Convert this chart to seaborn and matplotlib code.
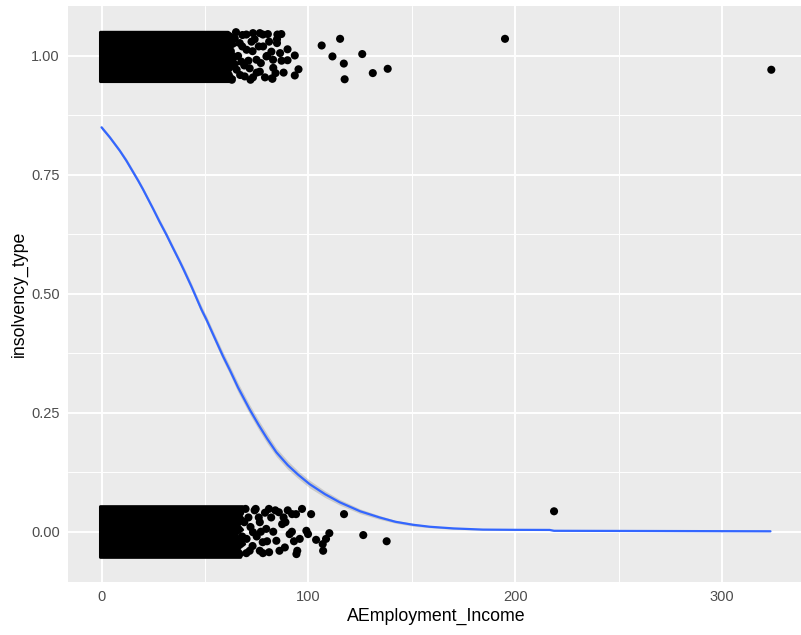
import numpy as np
import pandas as pd
import seaborn as sns
import matplotlib.pyplot as plt

# fitted logistic curve
curve_x = [0, 4, 8.8, 12, 17.7, 20, 24.9, 28, 31.4, 34, 37.8, 40, 43.5, 46, 48.3, 50.7,
           54, 58.7, 62, 66, 71.6, 76, 80, 84.5, 90, 95, 100.6, 108, 115.1, 125, 134.4,
           142, 150.5, 158.6, 170, 184.3, 200, 216.6, 218.7, 323.3]
curve_y = [0.850, 0.829, 0.801, 0.780, 0.738, 0.720, 0.679, 0.652, 0.624, 0.601, 0.568,
           0.548, 0.515, 0.490, 0.467, 0.446, 0.414, 0.369, 0.340, 0.303, 0.257, 0.224,
           0.196, 0.167, 0.140, 0.120, 0.100, 0.079, 0.062, 0.043, 0.030, 0.021, 0.0147,
           0.0105, 0.007, 0.0045, 0.0040, 0.0038, 0.002, 0.001]
ci_half = [0.004, 0.004, 0.004, 0.005, 0.005, 0.005, 0.005, 0.006, 0.006, 0.006, 0.006,
           0.007, 0.007, 0.007, 0.008, 0.008, 0.008, 0.009, 0.009, 0.010, 0.010, 0.010,
           0.010, 0.009, 0.009, 0.008, 0.008, 0.007, 0.006, 0.005, 0.004, 0.003, 0.003,
           0.002, 0.002, 0.001, 0.001, 0.001, 0.001, 0.001]

# solid cores of the jittered clouds (too dense to read single points): ragged right edge
top_core_y = [0.947, 0.955, 0.965, 0.975, 0.985, 0.995, 1.005, 1.015, 1.025, 1.035, 1.045, 1.051]
top_core_edge = [62, 64, 61, 63, 66, 62, 64, 61, 65, 62, 63, 61]
bot_core_y = [-0.053, -0.045, -0.035, -0.025, -0.015, -0.005, 0.005, 0.015, 0.025, 0.035, 0.045, 0.054]
bot_core_edge = [67, 68, 66, 69, 67, 65, 68, 66, 69, 67, 66, 68]
core_left = -0.8

# readable points at the ragged edges, insolvency_type = 1
top_x = [64.4, 68.1, 73.2, 76.5, 80.4, 66.8, 72.5, 70.1, 78.1, 82.1, 63.6, 67.6,
         74.9, 79.7, 82.9, 65.3, 71.6, 76.5, 69.2, 73.2, 82.4, 84.1,
         86.9, 84.8, 84.8, 89.9, 86.3, 93.4, 89.9, 95.2, 93.4, 82.6,
         106.4, 115.3, 111.6, 117.1, 126.0, 117.5, 131.1, 138.3, 195.0, 323.7,
         60.5, 61.5, 62.5, 63, 65, 66, 67, 68, 69, 70, 71, 72, 73, 74, 75, 76, 77,
         78, 79, 80, 81, 83, 85, 87, 88]
top_y = [1.037, 1.044, 1.048, 1.048, 1.046, 1.027, 1.030, 1.013, 1.020, 1.009, 0.995, 0.988,
         0.992, 0.999, 0.992, 0.971, 0.974, 0.967, 0.957, 0.955, 0.953, 0.964,
         1.046, 1.035, 1.027, 1.014, 1.006, 1.001, 0.991, 0.972, 0.959, 0.952,
         1.022, 1.036, 0.999, 0.984, 1.004, 0.951, 0.964, 0.973, 1.036, 0.971,
         1.040, 0.960, 1.010, 0.950, 1.050, 1.000, 0.960, 1.020, 0.980, 1.045, 0.990,
         0.950, 1.010, 1.035, 0.965, 1.020, 0.985, 1.045, 0.955, 1.000, 1.030, 0.975,
         1.045, 0.990, 0.965]

# readable points at the ragged edges, insolvency_type = 0
bot_x = [69.6, 74.5, 80.9, 85.7, 92.1, 94.0, 96.9, 101.3, 117.2, 88.9, 87.3, 76.5,
         73.2, 79.6, 90.9, 95.8, 99.0, 99.8, 103.7, 106.9, 108.5, 110.1, 107.1,
         126.5, 137.8, 94.2, 94.6, 88.6, 84.5, 81.0, 76.5, 71.6, 77.9, 70.1, 218.7,
         67, 68, 69, 70, 71, 72, 73, 74, 75, 76, 77, 78, 79, 80, 82, 83, 84, 86, 88,
         90, 92, 93]
bot_y = [0.048, 0.048, 0.048, 0.041, 0.037, 0.037, 0.048, 0.037, 0.037, 0.020, 0.016, 0.020,
         -0.001, 0.006, -0.005, -0.015, 0.002, -0.005, -0.017, -0.026, -0.015, -0.003, -0.040,
         -0.007, -0.020, -0.047, -0.040, -0.033, -0.019, -0.043, -0.040, -0.040, -0.022,
         -0.015, 0.043,
         0.040, -0.010, 0.020, -0.045, 0.030, 0.010, -0.030, 0.045, -0.010, 0.030, 0.000,
         -0.045, 0.040, -0.020, 0.030, 0.000, 0.045, -0.040, 0.030, 0.045, 0.000, -0.020]

pts = pd.DataFrame({'AEmployment_Income': top_x + bot_x,
                    'insolvency_type': top_y + bot_y})
fit = pd.DataFrame({'AEmployment_Income': curve_x, 'insolvency_type': curve_y})

sns.set_theme(style='darkgrid', rc={
    'axes.facecolor': '#EBEBEB',
    'grid.color': 'white',
    'axes.edgecolor': '#EBEBEB',
    'xtick.color': '#333333',
    'ytick.color': '#333333',
    'xtick.labelcolor': '#4D4D4D',
    'ytick.labelcolor': '#4D4D4D',
})
plt.rcParams['font.family'] = ['Liberation Sans', 'DejaVu Sans']

fig = plt.figure(figsize=(8.01, 6.35), dpi=100)
ax = fig.add_axes([68 / 801, (635 - 581.7) / 635, (804 - 68) / 801, (581.7 - 6) / 635])

# cores get a thick round-joined edge so their corners look like the dot cloud
ax.fill_betweenx(top_core_y, core_left, top_core_edge, color='black', lw=2,
                 joinstyle='round', zorder=3)
ax.fill_betweenx(bot_core_y, core_left, bot_core_edge, color='black', lw=2,
                 joinstyle='round', zorder=3)
sns.scatterplot(data=pts, x='AEmployment_Income', y='insolvency_type', ax=ax,
                color='black', s=34, edgecolor='none', zorder=3)

lo = np.array(curve_y) - np.array(ci_half)
hi = np.array(curve_y) + np.array(ci_half)
ax.fill_between(curve_x, lo, hi, color='#999999', alpha=0.4, lw=0, zorder=4)
sns.lineplot(data=fit, x='AEmployment_Income', y='insolvency_type', ax=ax,
             color='#3366FF', lw=1.6, zorder=5)

ax.set_xlim(-16.2, 339.5)
ax.set_ylim(-0.105, 1.105)
ax.set_xticks([0, 100, 200, 300])
ax.set_xticks([50, 150, 250], minor=True)
ax.set_yticks([0, 0.25, 0.5, 0.75, 1.0])
ax.set_yticklabels(['0.00', '0.25', '0.50', '0.75', '1.00'])
ax.set_yticks([0.125, 0.375, 0.625, 0.875], minor=True)
ax.grid(which='major', color='white', lw=1.4)
ax.grid(which='minor', color='white', lw=0.7)
ax.tick_params(which='major', length=4, width=1, labelsize=10.5, pad=2)
ax.tick_params(which='minor', length=0)
for s in ax.spines.values():
    s.set_visible(False)

ax.set_xlabel('AEmployment_Income', fontsize=12.8, color='black', labelpad=3)
ax.set_ylabel('insolvency_type', fontsize=12.8, color='black', labelpad=2)

fig.savefig('out.png', dpi=100)
